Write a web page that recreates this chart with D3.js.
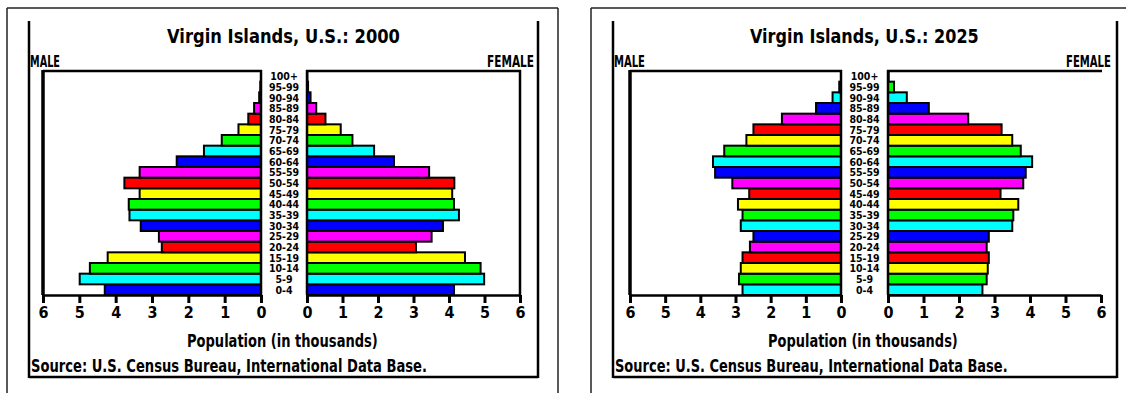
<!DOCTYPE html>
<html>
<head>
<meta charset="utf-8">
<script src="https://cdn.jsdelivr.net/npm/d3@7"></script>
<style>
  html, body { margin: 0; padding: 0; background: #fff; }
  svg { display: block; }
  text { font-family: "DejaVu Sans Condensed", "DejaVu Sans", sans-serif; font-weight: bold; fill: #000; }
</style>
</head>
<body>
<svg id="chart" width="1126" height="393"></svg>
<script>
// ---- data ----
const ageGroups = ["0-4","5-9","10-14","15-19","20-24","25-29","30-34","35-39","40-44","45-49",
                   "50-54","55-59","60-64","65-69","70-74","75-79","80-84","85-89","90-94","95-99","100+"];
const male2000   = [4.30, 4.99, 4.71, 4.22, 2.73, 2.81, 3.31, 3.62, 3.64, 3.34, 3.76, 3.34, 2.32, 1.57, 1.08, 0.62, 0.35, 0.19, 0.05, 0.02, 0.00];
const female2000 = [4.14, 4.99, 4.89, 4.45, 3.07, 3.51, 3.83, 4.28, 4.14, 4.09, 4.15, 3.44, 2.45, 1.89, 1.28, 0.95, 0.52, 0.26, 0.10, 0.03, 0.01];
const male2025   = [2.80, 2.90, 2.85, 2.80, 2.59, 2.49, 2.85, 2.80, 2.93, 2.61, 3.09, 3.58, 3.64, 3.32, 2.69, 2.49, 1.68, 0.71, 0.24, 0.05, 0.00];
const female2025 = [2.66, 2.78, 2.81, 2.84, 2.78, 2.84, 3.50, 3.53, 3.67, 3.17, 3.81, 3.88, 4.06, 3.74, 3.50, 3.20, 2.26, 1.15, 0.53, 0.17, 0.02];
const tickValues = [0, 1, 2, 3, 4, 5, 6];
const palette = ["#0000ff", "#00ffff", "#00ff00", "#ffff00", "#ff0000", "#ff00ff"];
const titles = ["Virgin Islands, U.S.: 2000", "Virgin Islands, U.S.: 2025"];
const maleLabel = "MALE";
const femaleLabel = "FEMALE";
const xAxisLabel = "Population (in thousands)";
const sourceLabel = "Source: U.S. Census Bureau, International Data Base.";

// ---- layout ----
const panels = [
  { title: titles[0], male: male2000, female: female2000, colorStart: 0,
    outer: {x1: 7, x2: 558}, inner: {x1: 29, x2: 538},
    mLeft: 43, mZero: 261, fZero: 307, fRight: 520, fRightBorder: true,
    titleX: [167, 400], maleX: [30, 60], femaleX: [487, 534], popX: [187, 378], srcX: [31, 427] },
  { title: titles[1], male: male2025, female: female2025, colorStart: 1,
    outer: {x1: 591, x2: 1140}, inner: {x1: 613, x2: 1117},
    mLeft: 630, mZero: 841, fZero: 888, fRight: 1101, fRightBorder: false,
    titleX: [750, 979], maleX: [614, 645], femaleX: [1066, 1111], popX: [768, 958], srcX: [615, 1008] }
];
const plotTop = 71, plotBottom = 295;

const svg = d3.select("#chart");

// draw text at a given size, then squeeze/stretch it horizontally to span x1..x2
function fitText(g, str, x1, x2, baseline, size) {
  const t = g.append("text")
    .attr("x", 0).attr("y", 0)
    .attr("font-size", size)
    .text(str);
  const natural = t.node().getComputedTextLength() || 1;
  t.attr("transform", `translate(${x1},${baseline}) scale(${(x2 - x1) / natural},1)`);
}

function line(g, x1, y1, x2, y2, w, c) {
  g.append("line").attr("x1", x1).attr("y1", y1).attr("x2", x2).attr("y2", y2)
    .attr("stroke", c || "#000").attr("stroke-width", w);
}

panels.forEach(p => {
  const g = svg.append("g");

  // outer frame
  line(g, p.outer.x1, 8, p.outer.x2, 8, 1.5, "#222");
  line(g, p.outer.x1, 8, p.outer.x1, 393, 1.5, "#222");
  line(g, p.outer.x2, 8, p.outer.x2, 393, 1.5, "#222");
  // inner U frame
  line(g, p.inner.x1, 21, p.inner.x1, 378, 2.5);
  line(g, p.inner.x1, 377, p.inner.x2, 377, 2.5);
  line(g, p.inner.x2, 21, p.inner.x2, 378, 2.5);

  const y = d3.scaleBand().domain(ageGroups.slice().reverse()).range([plotTop, plotBottom]).paddingInner(0);
  const xm = d3.scaleLinear().domain([0, 6]).range([p.mZero, p.mLeft]);
  const xf = d3.scaleLinear().domain([0, 6]).range([p.fZero, p.fRight]);
  const color = i => palette[(p.colorStart + i) % palette.length];

  // bars
  g.append("g").selectAll("rect").data(p.male).join("rect")
    .filter(d => d > 0)
    .attr("x", d => xm(d)).attr("width", d => xm(0) - xm(d))
    .attr("y", (d, i) => y(ageGroups[i])).attr("height", y.bandwidth())
    .attr("fill", (d, i) => color(i)).attr("stroke", "#000").attr("stroke-width", 2);
  g.append("g").selectAll("rect").data(p.female).join("rect")
    .filter(d => d > 0)
    .attr("x", xf(0)).attr("width", d => xf(d) - xf(0))
    .attr("y", (d, i) => y(ageGroups[i])).attr("height", y.bandwidth())
    .attr("fill", (d, i) => color(i)).attr("stroke", "#000").attr("stroke-width", 2);

  // plot boxes
  line(g, p.mLeft, plotTop, p.mZero + 1, plotTop, 2.5);
  line(g, p.mLeft, plotTop - 1, p.mLeft, plotBottom, 3.5);
  line(g, p.mZero, plotTop - 1, p.mZero, plotBottom, 2.5);
  line(g, p.fZero, plotTop - 1, p.fZero, plotBottom, 2.5);
  line(g, p.fZero - 1, plotTop, p.fRight + 1, plotTop, 2.5);
  if (p.fRightBorder) line(g, p.fRight, plotTop - 1, p.fRight, plotBottom, 2.5);

  // axes
  [xm, xf].forEach(sc => {
    const ax = g.append("g").attr("transform", `translate(0,${plotBottom})`)
      .call(d3.axisBottom(sc).tickValues(tickValues).tickFormat(d3.format("d"))
        .tickSize(8).tickSizeOuter(0).tickPadding(4));
    ax.select(".domain").attr("stroke", "#000").attr("stroke-width", 2.5);
    ax.selectAll(".tick line").attr("stroke", "#000").attr("stroke-width", 3);
    ax.selectAll(".tick text")
      .attr("font-family", '"DejaVu Sans Condensed", "DejaVu Sans", sans-serif')
      .attr("font-weight", "bold").attr("font-size", 16).attr("fill", "#000");
  });

  // age labels
  const cx = (p.mZero + p.fZero) / 2;
  g.append("g").selectAll("text").data(ageGroups).join("text")
    .attr("x", cx).attr("y", d => y(d) + y.bandwidth() / 2 + 4)
    .attr("text-anchor", "middle").attr("font-size", 10.5)
    .text(d => d);

  // texts
  fitText(g, p.title, p.titleX[0], p.titleX[1], 43, 19);
  fitText(g, maleLabel, p.maleX[0], p.maleX[1], 67, 16);
  fitText(g, femaleLabel, p.femaleX[0], p.femaleX[1], 67, 16);
  fitText(g, xAxisLabel, p.popX[0], p.popX[1], 347, 18);
  fitText(g, sourceLabel, p.srcX[0], p.srcX[1], 372, 17);
});
</script>
</body>
</html>
